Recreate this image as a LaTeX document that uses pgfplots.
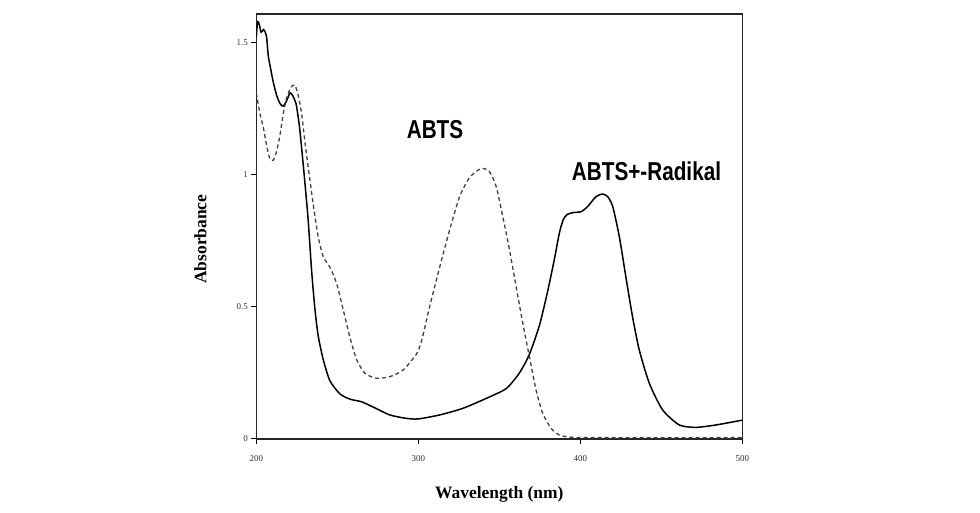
\documentclass[border=0pt]{standalone}
\usepackage{pgfplots}
\pgfplotsset{compat=1.18}
\usepackage{fontspec}
\setmainfont{Liberation Serif}
\newfontfamily\annfont[FakeStretch=0.8]{Liberation Sans}
\begin{document}
\begin{tikzpicture}
\path[use as bounding box] (0,0) rectangle (980bp,513bp);
\begin{axis}[
  at={(256.3bp,74.3bp)}, anchor=south west,
  scale only axis, width=486bp, height=424.7bp,
  xmin=200, xmax=500, ymin=0, ymax=1.609,
  xtick={200,300,400,500}, ytick={0,0.5,1,1.5},
  yticklabels={0,0.5,1,1.5},
  tick align=outside, tick pos=left,
  major tick length=5bp,
  every tick/.style={black, line width=1bp},
  axis line style={line width=1.6bp, black!85},
  tick label style={font=\fontsize{9}{10}\selectfont, text=black!80},
  xticklabel style={yshift=-8bp},
  /pgf/number format/assume math mode=true,
  xlabel={\textbf{Wavelength (nm)}},
  ylabel={\textbf{Absorbance}},
  label style={font=\fontsize{17.5}{19}\selectfont},
  xlabel style={at={(axis description cs:0.5,-0.132)}, anchor=center},
  ylabel style={at={(axis description cs:-0.115,0.47)}, anchor=center},
  clip=true,
]
\addplot[black, line width=1.5bp, smooth, tension=0.4] coordinates {
(200,1.52) (200.8,1.58) (201.8,1.57) (203,1.54) (204.5,1.55) (205.5,1.54)
(206.4,1.52) (207.4,1.45) (208.9,1.40) (210.5,1.35) (212.6,1.30) (214.6,1.27)
(216.6,1.26) (218.7,1.28) (220.8,1.31) (222.4,1.30) (224.5,1.27) (226.5,1.19)
(228,1.10) (229.4,1.01) (232,0.83) (234.1,0.64) (236.2,0.49) (238.2,0.39)
(241.3,0.30) (245.4,0.22) (251.6,0.17) (257.7,0.15) (264.9,0.14) (272.1,0.12)
(282.4,0.09) (292.7,0.077) (300,0.075) (313.2,0.09) (327.5,0.115) (342,0.153)
(354.3,0.19) (362.5,0.25) (368.6,0.32) (374.8,0.43) (379.9,0.56) (384,0.68)
(387.1,0.78) (389.5,0.83) (392,0.85) (396,0.857) (400.5,0.86) (404.6,0.88)
(409.7,0.917) (413.8,0.927) (416.9,0.917) (420,0.88) (424.1,0.765) (428.2,0.61)
(432.3,0.46) (436.4,0.336) (442.6,0.21) (450.8,0.109) (461.1,0.052) (471.4,0.043)
(483.7,0.052) (498,0.068) (500,0.07)
};
\addplot[black!75, line width=1.3bp, dash pattern=on 4bp off 3bp, smooth, tension=0.4] coordinates {
(200,1.31) (202.3,1.23) (204.3,1.18) (206.4,1.11) (208.4,1.06) (210.5,1.055)
(212.6,1.09) (214.6,1.15) (216.6,1.23) (218.7,1.29) (221.2,1.33) (223.8,1.34)
(225.9,1.30) (228,1.23) (230,1.125) (232,1.03) (235.1,0.89) (238.2,0.765)
(241.3,0.69) (245.4,0.65) (249.5,0.59) (253.6,0.49) (257.7,0.386) (261.9,0.30)
(267,0.248) (274.2,0.229) (282.4,0.235) (290.6,0.26) (298.8,0.32) (301.5,0.36)
(304,0.42) (307,0.50) (313.2,0.65) (319.3,0.79) (325.5,0.917) (331.7,0.99)
(338.9,1.024) (344,1.011) (348.1,0.955) (352.2,0.84) (356.3,0.715) (360.4,0.576)
(364.5,0.437) (368.6,0.31) (372.7,0.184) (376.8,0.096) (382,0.039) (387.1,0.014)
(395.3,0.005) (420,0.004) (500,0.004)
};
\end{axis}
\node[font=\annfont\bfseries\fontsize{26}{28}\selectfont, inner sep=0pt] at (435bp,383bp) {ABTS};
\node[font=\annfont\bfseries\fontsize{26}{28}\selectfont, inner sep=0pt] at (646.5bp,342bp) {ABTS+-Radikal};
\end{tikzpicture}
\end{document}
